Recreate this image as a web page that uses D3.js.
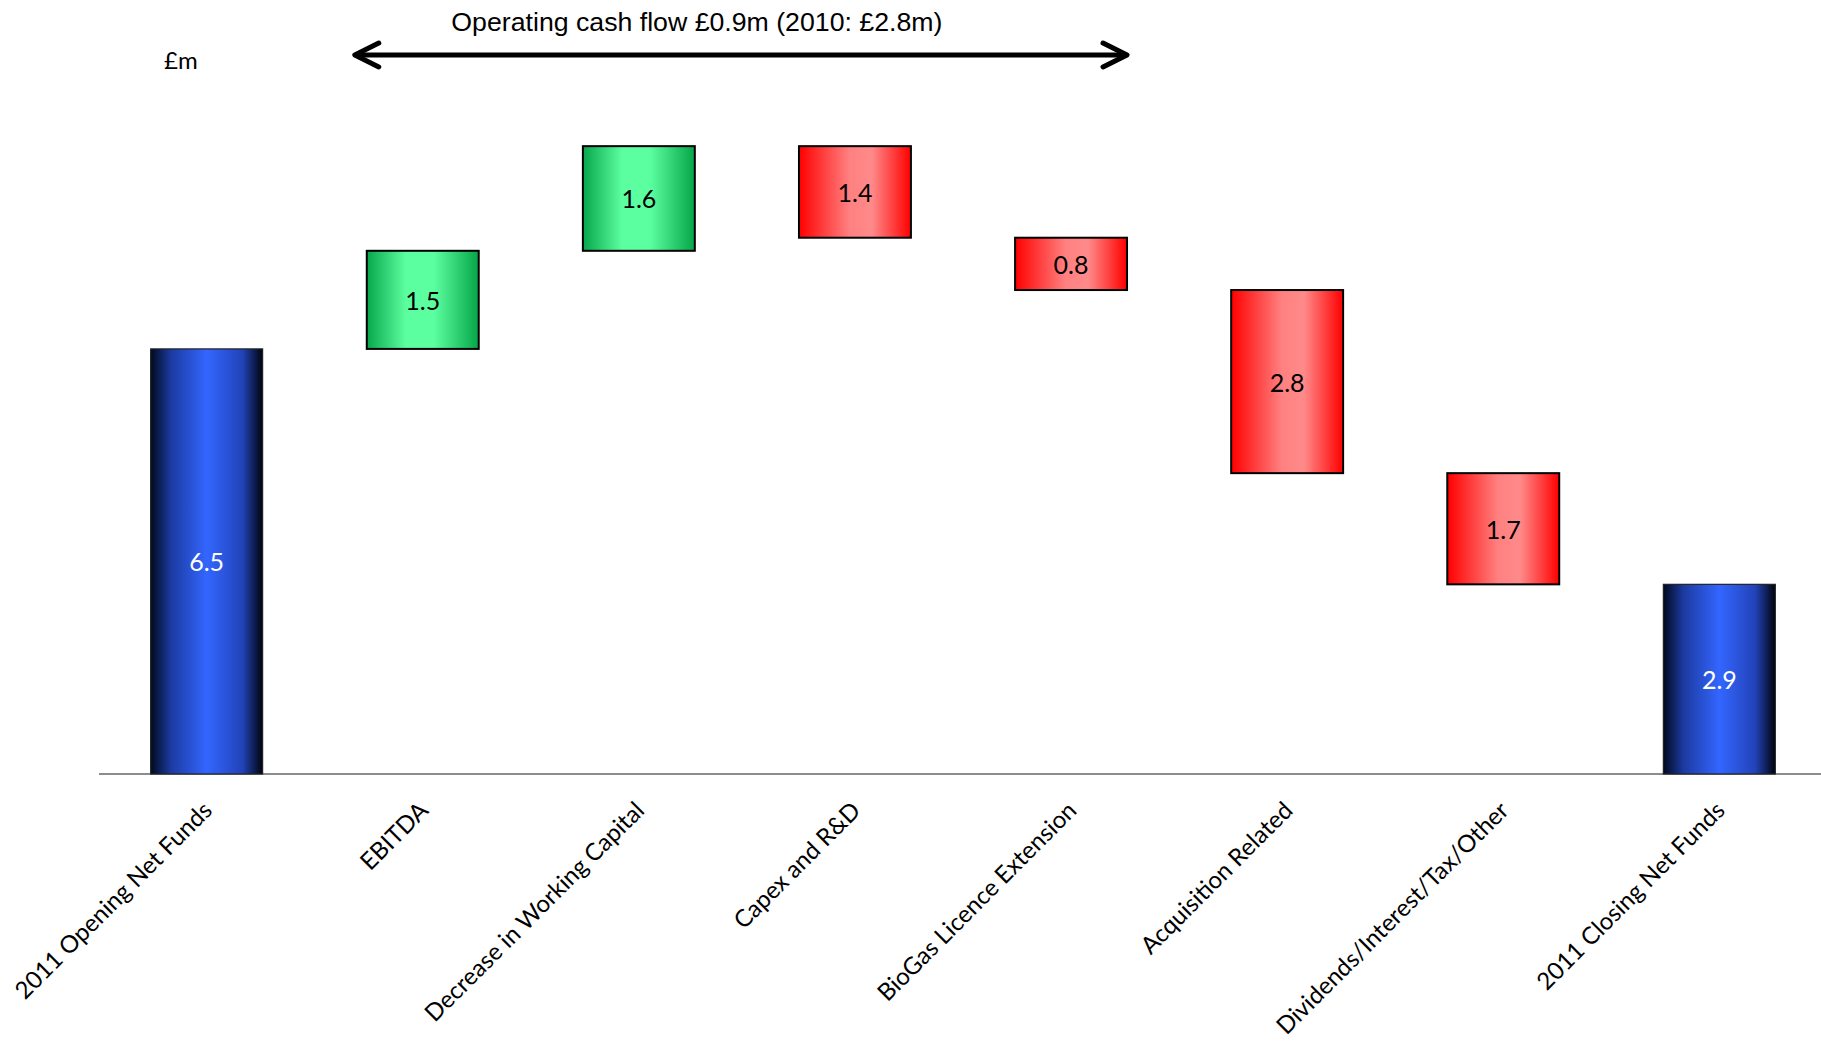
<!doctype HTML>
<html>
<head>
<script src="https://d3js.org/d3.v7.min.js"></script>
<style>
  body { margin: 0; background: #fff; }
</style>
</head>
<body>
<script>
    var canvasWidth = 1821;
    var canvasHeight = 1041;

    // waterfall data, £m
    var categories = ["2011 Opening Net Funds", "EBITDA", "Decrease in Working Capital", "Capex and R&D",
        "BioGas Licence Extension", "Acquisition Related", "Dividends/Interest/Tax/Other", "2011 Closing Net Funds"];
    var changes = [6.5, 1.5, 1.6, -1.4, -0.8, -2.8, -1.7, 2.9];
    var kinds = ["total", "up", "up", "down", "down", "down", "down", "total"];
    var valueLabels = ["6.5", "1.5", "1.6", "1.4", "0.8", "2.8", "1.7", "2.9"];

    // running totals for the floating bars
    var data = [];
    var running = 0;
    for (var i = 0; i < categories.length; i++) {
        var start, end;
        if (kinds[i] == "total") { start = 0; end = changes[i]; running = changes[i]; }
        else { start = running; end = running + changes[i]; running = end; }
        data.push({cat: categories[i], kind: kinds[i], lo: Math.min(start, end), hi: Math.max(start, end), label: valueLabels[i]});
    }

    var svg = d3.select("body").append("svg")
        .attr("width", canvasWidth)
        .attr("height", canvasHeight);

    var xScale = d3.scaleBand()
        .domain(categories)
        .range([98.6, 1827.4])
        .paddingInner(0.482)
        .paddingOuter(0.241);
    var yScale = d3.scaleLinear()
        .domain([0, 10])
        .range([774, 120]);

    // gradients
    var defs = svg.append("defs");
    function grad(id, stops) {
        var g = defs.append("linearGradient").attr("id", id)
            .attr("x1", "0%").attr("x2", "100%").attr("y1", "0%").attr("y2", "0%");
        stops.forEach(function(s) {
            g.append("stop").attr("offset", s[0]).attr("stop-color", s[1]);
        });
    }
    grad("g-total", [["0%", "#000a1e"], ["18%", "#1c3aa0"], ["50%", "#3366ff"], ["82%", "#2243b8"], ["100%", "#00030c"]]);
    grad("g-up", [["0%", "#07a64b"], ["35%", "#5cffa0"], ["60%", "#5cffa0"], ["100%", "#05a548"]]);
    grad("g-down", [["0%", "#ff0000"], ["45%", "#ff8080"], ["65%", "#ff8a8a"], ["100%", "#ff0000"]]);

    var g = svg.append("g");

    // baseline axis
    var xAxis = g.append("g")
        .attr("transform", "translate(0," + yScale(0) + ")")
        .call(d3.axisBottom(xScale).tickSize(0).tickFormat(""));
    xAxis.select(".domain").attr("stroke", "#8c8c8c").attr("stroke-width", 2)
        .attr("d", "M99,0H1821");

    // bars
    g.selectAll(".bar")
        .data(data)
        .enter().append("rect")
        .attr("class", "bar")
        .attr("x", function(d) { return xScale(d.cat); })
        .attr("y", function(d) { return yScale(d.hi); })
        .attr("width", xScale.bandwidth())
        .attr("height", function(d) { return yScale(d.lo) - yScale(d.hi); })
        .attr("fill", function(d) { return "url(#g-" + d.kind + ")"; })
        .attr("stroke", function(d) { return d.kind == "total" ? "#222" : "#000"; })
        .attr("stroke-width", function(d) { return d.kind == "total" ? 1.2 : 2; });

    // value labels
    g.selectAll(".val")
        .data(data)
        .enter().append("text")
        .attr("class", "val")
        .attr("x", function(d) { return xScale(d.cat) + xScale.bandwidth() / 2; })
        .attr("y", function(d) { return (yScale(d.lo) + yScale(d.hi)) / 2; })
        .attr("text-anchor", "middle")
        .attr("dominant-baseline", "central")
        .attr("font-family", "Lato, sans-serif")
        .attr("font-size", "25px")
        .attr("fill", function(d) { return d.kind == "total" ? "#fff" : "#000"; })
        .text(function(d) { return d.label; });

    // rotated category labels
    g.selectAll(".cat")
        .data(data)
        .enter().append("text")
        .attr("class", "cat")
        .attr("transform", function(d) {
            return "translate(" + (xScale(d.cat) + xScale.bandwidth() / 2 + 7) + "," + (yScale(0) + 38) + ") rotate(-45)";
        })
        .attr("text-anchor", "end")
        .attr("font-family", "Lato, sans-serif")
        .attr("font-size", "24px")
        .attr("fill", "#000")
        .text(function(d) { return d.cat; });

    // unit
    svg.append("text")
        .attr("x", 164)
        .attr("y", 69)
        .attr("font-family", "Lato, sans-serif")
        .attr("font-size", "24px")
        .text("£m");

    // operating cash flow arrow
    var ax1 = xScale("EBITDA") - 12;
    var ax2 = xScale("BioGas Licence Extension") + xScale.bandwidth();
    var ay = 55;
    svg.append("line")
        .attr("x1", ax1 + 3).attr("x2", ax2 - 3)
        .attr("y1", ay).attr("y2", ay)
        .attr("stroke", "#000").attr("stroke-width", 5);
    svg.append("path")
        .attr("d", "M" + (ax1 + 24) + "," + (ay - 12) + "L" + ax1 + "," + ay + "L" + (ax1 + 24) + "," + (ay + 12))
        .attr("fill", "none").attr("stroke", "#000").attr("stroke-width", 5)
        .attr("stroke-linecap", "round").attr("stroke-linejoin", "round");
    svg.append("path")
        .attr("d", "M" + (ax2 - 24) + "," + (ay - 12) + "L" + ax2 + "," + ay + "L" + (ax2 - 24) + "," + (ay + 12))
        .attr("fill", "none").attr("stroke", "#000").attr("stroke-width", 5)
        .attr("stroke-linecap", "round").attr("stroke-linejoin", "round");

    svg.append("text")
        .attr("x", ax1 + (ax2 - ax1) * 0.443)
        .attr("y", 31)
        .attr("text-anchor", "middle")
        .attr("font-family", "Liberation Sans, Arial, sans-serif")
        .attr("font-size", "26.7px")
        .text("Operating cash flow £0.9m (2010: £2.8m)");
</script>
</body>
</html>
